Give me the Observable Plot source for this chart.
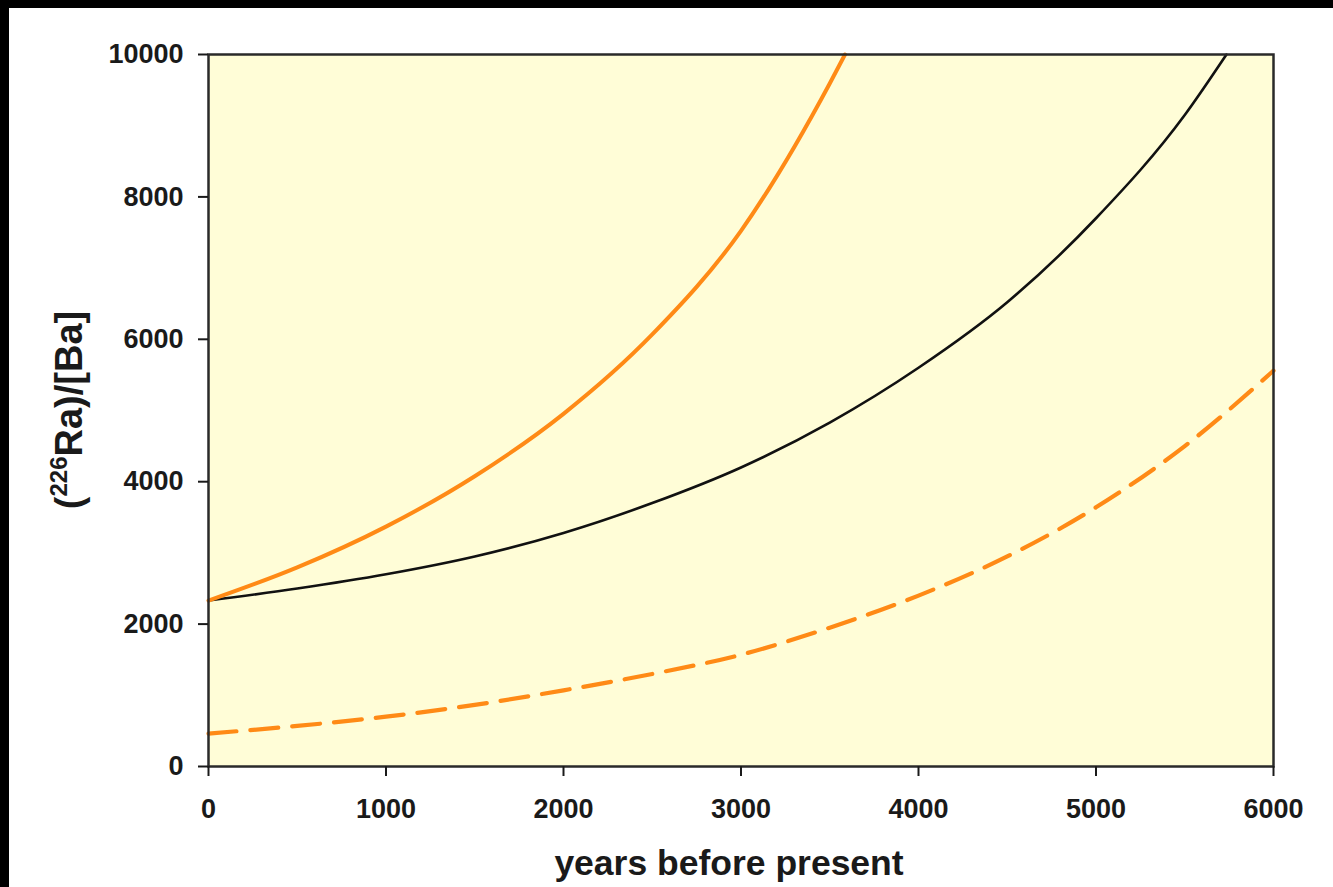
<!DOCTYPE html>
<html><head><meta charset="utf-8">
<script src="https://cdn.jsdelivr.net/npm/d3@7"></script>
<script src="https://cdn.jsdelivr.net/npm/@observablehq/plot@0.6"></script>
<style>
html,body{margin:0;padding:0;background:#000;width:1333px;height:887px;overflow:hidden}
#wrap{position:absolute;left:9px;top:8px;width:1324px;height:879px;background:#fff}
</style></head><body><div id="wrap"></div>
<script>
// Orange solid curve
const orangeYears = [0, 500, 1000, 1500, 2000, 2500, 3000, 3500, 3586];
const orangeVals  = [2330, 2796, 3369, 4077, 4953, 6068, 7524, 9593, 10000];
// Black curve
const blackYears = [0, 500, 1000, 1500, 2000, 2500, 3000, 3500, 4000, 4500, 5000, 5500, 5735];
const blackVals  = [2330, 2500, 2700, 2950, 3280, 3700, 4200, 4830, 5600, 6520, 7700, 9150, 10000];
// Orange dashed curve
const dashedYears = [0, 500, 1000, 1500, 2000, 2500, 3000, 3500, 4000, 4500, 5000, 5500, 6000];
const dashedVals  = [463, 570, 700, 865, 1070, 1300, 1570, 1950, 2400, 2950, 3640, 4500, 5560];

const xTicks = [0, 1000, 2000, 3000, 4000, 5000, 6000];
const yTicks = [0, 2000, 4000, 6000, 8000, 10000];
const xTitle = "years before present";
const yTitleParts = ["(", "226", "Ra)/[Ba]"];

const toRows = (xs, ys) => xs.map((x, i) => ({x, y: ys[i]}));
const orange = toRows(orangeYears, orangeVals);
const black = toRows(blackYears, blackVals);
const dashed = toRows(dashedYears, dashedVals);

const ORANGE = "#ff8a16";
const FONT = "'Liberation Sans', Arial, Helvetica, sans-serif";

const W = 1324, H = 879;
const plot = Plot.plot({
  width: W, height: H,
  marginLeft: 199, marginRight: 60, marginTop: 46, marginBottom: 121,
  style: {fontFamily: FONT, fontSize: "27px", fontWeight: "bold", color: "#1a1a1a", background: "transparent", overflow: "visible"},
  x: {domain: [0, 6000]},
  y: {domain: [0, 10000]},
  marks: [
    Plot.frame({fill: "#fffdd7", stroke: "none"}),
    Plot.line(dashed, {x: "x", y: "y", stroke: ORANGE, strokeWidth: 4.2, strokeDasharray: "28,14", curve: "monotone-x"}),
    Plot.line(black, {x: "x", y: "y", stroke: "#111", strokeWidth: 2.6, curve: "monotone-x"}),
    Plot.line(orange, {x: "x", y: "y", stroke: ORANGE, strokeWidth: 4, curve: "monotone-x"}),
    Plot.frame({stroke: "#2a2a2a", strokeWidth: 2.5}),
    Plot.axisX({ticks: xTicks, tickSize: 10, tickPadding: 22, strokeWidth: 2, tickFormat: d => String(d), label: null}),
    Plot.axisY({ticks: yTicks, tickSize: 10, tickPadding: 15, strokeWidth: 2, tickFormat: d => String(d), label: null})
  ]
});
document.getElementById("wrap").appendChild(plot);

const svg = d3.select(plot);
svg.append("text")
  .attr("x", 720).attr("y", 867)
  .attr("text-anchor", "middle")
  .attr("font-family", FONT).attr("font-weight", "bold").attr("font-size", 35.5)
  .attr("fill", "#1a1a1a")
  .text(xTitle);

const yt = svg.append("text")
  .attr("transform", "translate(73,402) rotate(-90)")
  .attr("text-anchor", "middle")
  .attr("font-family", FONT).attr("font-weight", "bold").attr("font-size", 38)
  .attr("fill", "#1a1a1a");
yt.append("tspan").text(yTitleParts[0]);
yt.append("tspan").attr("font-size", 24).attr("dy", -15).text(yTitleParts[1]);
yt.append("tspan").attr("dy", 15).text(yTitleParts[2]);
</script>
</body></html>
